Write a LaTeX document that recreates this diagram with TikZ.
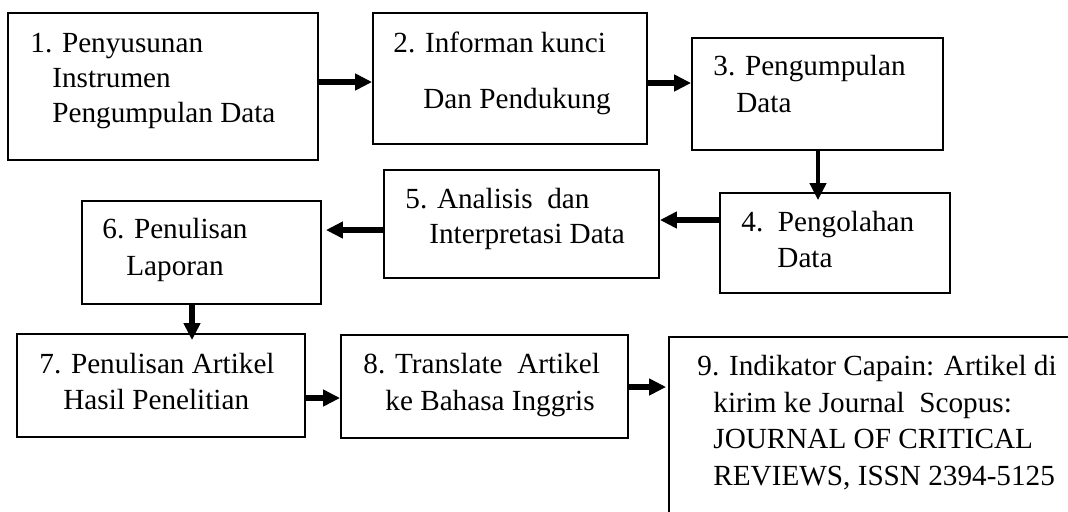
\documentclass[tikz,border=0pt]{standalone}
\usepackage{fontspec}
\setmainfont{Liberation Serif}
\usetikzlibrary{arrows.meta,fit}
\begin{document}
\begin{tikzpicture}[x=0.5pt,y=-0.5pt,
  box/.style={draw, line width=0.9pt, inner sep=0pt, rectangle},
  txt/.style={anchor=base west, inner sep=0pt, font=\fontsize{14.6}{18}\selectfont},
  arr/.style={line width=2.6pt, -{Triangle[length=8.5pt,width=8pt]}}]
\useasboundingbox (0,0) rectangle (1068,511);
\clip (0,0) rectangle (1068,511);
\node[box, fit={(8,13) (318,160)}] (b1) {};
\node[box, fit={(373,13) (647,144)}] (b2) {};
\node[box, fit={(692,38) (943,150)}] (b3) {};
\node[box, fit={(720,193) (950,293)}] (b4) {};
\node[box, fit={(384,170) (659,278)}] (b5) {};
\node[box, fit={(82,201) (321,304)}] (b6) {};
\node[box, fit={(17,334) (305,437)}] (b7) {};
\node[box, fit={(341,335) (628,438)}] (b8) {};
\node[box, fit={(669,337) (1120,560)}] (b9) {};
\node[txt] (t1a) at (30,52) {1. Penyusunan};
\node[txt] (t1b) at (52,87) {Instrumen};
\node[txt] (t1c) at (52,122) {Pengumpulan Data};
\node[txt] (t2a) at (393,52) {2. Informan kunci};
\node[txt] (t2b) at (423,108) {Dan Pendukung};
\node[txt] (t3a) at (713,75) {3. Pengumpulan};
\node[txt] (t3b) at (736,112) {Data};
\node[txt] (t4a) at (741,231) {4.\ \ Pengolahan};
\node[txt] (t4b) at (777,267) {Data};
\node[txt] (t5a) at (405,208) {5. Analisis\ \ dan};
\node[txt] (t5b) at (429,243) {Interpretasi Data};
\node[txt] (t6a) at (102,238) {6. Penulisan};
\node[txt] (t6b) at (126,275) {Laporan};
\node[txt] (t7a) at (39,373) {7. Penulisan Artikel};
\node[txt] (t7b) at (63,409) {Hasil Penelitian};
\node[txt] (t8a) at (363,373) {8. Translate\ \ Artikel};
\node[txt] (t8b) at (385,410) {ke Bahasa Inggris};
\node[txt] (t9a) at (697,375) {9. Indikator Capain: Artikel di};
\node[txt] (t9b) at (713,412) {kirim ke Journal\ \ Scopus:};
\node[txt] (t9c) at (713,448) {JOURNAL OF CRITICAL};
\node[txt] (t9d) at (713,485) {REVIEWS, ISSN 2394-5125};
\draw[arr] (b1.east |- 0,82) -- (b2.west |- 0,82);
\draw[arr] (b2.east |- 0,83) -- (b3.west |- 0,83);
\draw[arr, line width=2pt] (b3.south -| 818,0) -- ([yshift=-4pt]b4.north -| 818,0);
\draw[arr] (b4.west |- 0,220) -- (b5.east |- 0,220);
\draw[arr] (b5.west |- 0,230) -- ([xshift=2pt]b6.east |- 0,230);
\draw[arr] (b6.south -| 192,0) -- ([yshift=-3.5pt]b7.north -| 192,0);
\draw[arr] (b7.east |- 0,398) -- (b8.west |- 0,398);
\draw[arr] (b8.east |- 0,387) -- ([xshift=-1pt]b9.west |- 0,387);
\end{tikzpicture}
\end{document}
